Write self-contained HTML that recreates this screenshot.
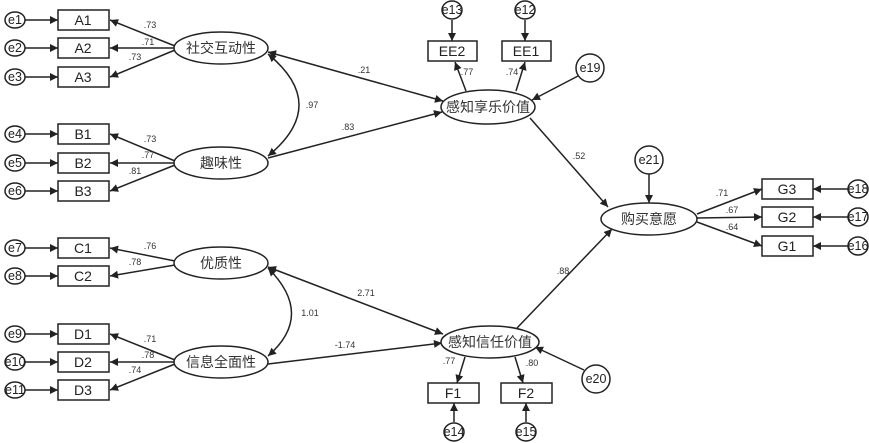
<!DOCTYPE html>
<html><head><meta charset="utf-8"><style>
html,body{margin:0;padding:0;background:#fff;}
svg{display:block;font-family:"Liberation Sans","Noto Sans CJK SC",sans-serif;}
.b{fill:#fff;stroke:#222;stroke-width:1.5}
.l{stroke:#222;stroke-width:1.5;fill:none}
.t{font-size:14px;fill:#222;text-anchor:middle;dominant-baseline:central}
.c{font-size:14px;fill:#333;text-anchor:middle;dominant-baseline:central}
.n{font-size:9px;fill:#333;text-anchor:middle}
.e{font-size:12.5px;fill:#222}
</style></head><body>
<svg width="869" height="443" viewBox="0 0 869 443">
<defs>
<marker id="a" viewBox="0 0 10 10" refX="10" refY="5" markerWidth="11" markerHeight="8" orient="auto-start-reverse" markerUnits="userSpaceOnUse"><path d="M0,0L10,5L0,10z" fill="#222"/></marker>
</defs>
<g class="l" marker-end="url(#a)">
<line x1="25" y1="20" x2="58" y2="20"/><line x1="25" y1="48" x2="58" y2="48"/><line x1="25" y1="77" x2="58" y2="77"/>
<line x1="25" y1="134" x2="58" y2="134"/><line x1="25" y1="163" x2="58" y2="163"/><line x1="25" y1="191" x2="58" y2="191"/>
<line x1="25" y1="248" x2="58" y2="248"/><line x1="25" y1="276" x2="58" y2="276"/>
<line x1="25" y1="334" x2="58" y2="334"/><line x1="25" y1="362" x2="58" y2="362"/><line x1="25" y1="390" x2="58" y2="390"/>
<line x1="175" y1="46" x2="110" y2="20"/><line x1="175" y1="48" x2="110" y2="48"/><line x1="175" y1="50" x2="110" y2="77"/>
<line x1="175" y1="161" x2="110" y2="134"/><line x1="175" y1="163" x2="110" y2="163"/><line x1="175" y1="165" x2="110" y2="191"/>
<line x1="175" y1="261" x2="110" y2="248"/><line x1="175" y1="265" x2="110" y2="276"/>
<line x1="175" y1="360" x2="110" y2="334"/><line x1="175" y1="362" x2="110" y2="362"/><line x1="175" y1="364" x2="110" y2="390"/>
</g>
<g class="b">
<ellipse cx="15" cy="20" rx="10" ry="8"/><ellipse cx="15" cy="48" rx="10" ry="8"/><ellipse cx="15" cy="77" rx="10" ry="8"/>
<ellipse cx="15" cy="134" rx="10" ry="8"/><ellipse cx="15" cy="163" rx="10" ry="8"/><ellipse cx="15" cy="191" rx="10" ry="8"/>
<ellipse cx="15" cy="248" rx="10" ry="8"/><ellipse cx="15" cy="276" rx="10" ry="8"/>
<ellipse cx="15" cy="334" rx="10" ry="8"/><ellipse cx="15" cy="362" rx="10" ry="8"/><ellipse cx="15" cy="390" rx="10" ry="8"/>
<rect x="58" y="10" width="51" height="20"/><rect x="58" y="38" width="51" height="20"/><rect x="58" y="67" width="51" height="20"/>
<rect x="58" y="124" width="51" height="20"/><rect x="58" y="153" width="51" height="20"/><rect x="58" y="181" width="51" height="20"/>
<rect x="58" y="238" width="51" height="20"/><rect x="58" y="266" width="51" height="20"/>
<rect x="58" y="324" width="51" height="20"/><rect x="58" y="352" width="51" height="20"/><rect x="58" y="380" width="51" height="20"/>
<ellipse cx="221" cy="48" rx="47" ry="16"/><ellipse cx="221" cy="163" rx="47" ry="16"/>
<ellipse cx="221" cy="263" rx="47" ry="16"/><ellipse cx="221" cy="362" rx="47" ry="16"/>
</g>
<g class="e" text-anchor="middle" dominant-baseline="central">
<text x="15" y="20">e1</text><text x="15" y="48">e2</text><text x="15" y="77">e3</text>
<text x="15" y="134">e4</text><text x="15" y="163">e5</text><text x="15" y="191">e6</text>
<text x="15" y="248">e7</text><text x="15" y="276">e8</text>
<text x="15" y="334">e9</text><text x="15" y="362">e10</text><text x="15" y="390">e11</text>
</g>
<g class="t">
<text x="83" y="20">A1</text><text x="83" y="48">A2</text><text x="83" y="77">A3</text>
<text x="83" y="134">B1</text><text x="83" y="163">B2</text><text x="83" y="191">B3</text>
<text x="83" y="248">C1</text><text x="83" y="276">C2</text>
<text x="83" y="334">D1</text><text x="83" y="362">D2</text><text x="83" y="390">D3</text>
</g>
<g class="c">
<text x="221" y="48">社交互动性</text><text x="221" y="163">趣味性</text>
<text x="221" y="263">优质性</text><text x="221" y="362">信息全面性</text>
</g>
<g class="n">
<text x="150" y="28">.73</text><text x="148" y="45">.71</text><text x="135" y="60">.73</text>
<text x="150" y="142">.73</text><text x="148" y="158">.77</text><text x="135" y="174">.81</text>
<text x="150" y="249">.76</text><text x="135" y="265">.78</text>
<text x="150" y="342">.71</text><text x="148" y="358">.78</text><text x="135" y="373">.74</text>
</g>
<path class="l" d="M268,54 Q330,105 268,156" marker-start="url(#a)" marker-end="url(#a)"/>
<path class="l" d="M268,268 Q315,315 268,356" marker-start="url(#a)" marker-end="url(#a)"/>
<text class="n" x="312" y="108">.97</text>
<text class="n" x="310" y="316">1.01</text>
<g class="l" marker-end="url(#a)">
<line x1="268" y1="52" x2="443" y2="101" marker-start="url(#a)"/>
<line x1="268" y1="158" x2="442" y2="112"/>
<line x1="268" y1="267" x2="443" y2="334" marker-start="url(#a)"/>
<line x1="268" y1="364" x2="442" y2="343"/>
<line x1="530" y1="118" x2="608" y2="207"/>
<line x1="517" y1="328" x2="612" y2="229"/>
<line x1="466" y1="91" x2="455" y2="62"/>
<line x1="516" y1="91" x2="525" y2="62"/>
<line x1="452" y1="20" x2="452" y2="41"/>
<line x1="525" y1="20" x2="525" y2="41"/>
<line x1="578" y1="76" x2="532" y2="100"/>
<line x1="649" y1="174" x2="649" y2="203"/>
<line x1="697" y1="214" x2="762" y2="189"/>
<line x1="697" y1="218" x2="762" y2="217"/>
<line x1="697" y1="222" x2="762" y2="246"/>
<line x1="848" y1="189" x2="813" y2="189"/>
<line x1="848" y1="217" x2="813" y2="217"/>
<line x1="848" y1="246" x2="813" y2="246"/>
<line x1="465" y1="357" x2="457" y2="383"/>
<line x1="515" y1="357" x2="523" y2="383"/>
<line x1="454" y1="422" x2="454" y2="403"/>
<line x1="526" y1="422" x2="526" y2="403"/>
<line x1="584" y1="370" x2="535" y2="347"/>
</g>
<g class="b">
<ellipse cx="488" cy="107" rx="47" ry="17"/>
<ellipse cx="490" cy="342" rx="49" ry="16"/>
<ellipse cx="649" cy="219" rx="48" ry="16"/>
<rect x="428" y="41" width="49" height="20"/><rect x="502" y="41" width="49" height="20"/>
<rect x="762" y="179" width="51" height="20"/><rect x="762" y="207" width="51" height="20"/><rect x="762" y="236" width="51" height="20"/>
<rect x="428" y="383" width="51" height="20"/><rect x="501" y="383" width="51" height="20"/>
<ellipse cx="452" cy="10" rx="10" ry="9"/><ellipse cx="525" cy="10" rx="10" ry="9"/>
<circle cx="590" cy="68" r="14"/><circle cx="649" cy="160" r="14"/><circle cx="596" cy="379" r="14"/>
<ellipse cx="858" cy="189" rx="10" ry="9"/><ellipse cx="858" cy="217" rx="10" ry="9"/><ellipse cx="858" cy="246" rx="10" ry="9"/>
<ellipse cx="454" cy="432" rx="10" ry="9"/><ellipse cx="526" cy="432" rx="10" ry="9"/>
</g>
<g class="c">
<text x="488" y="107">感知享乐价值</text><text x="490" y="342">感知信任价值</text><text x="649" y="219">购买意愿</text>
</g>
<g class="t">
<text x="452" y="51">EE2</text><text x="526" y="51">EE1</text>
<text x="787" y="189">G3</text><text x="787" y="217">G2</text><text x="787" y="246">G1</text>
<text x="453" y="393">F1</text><text x="526" y="393">F2</text>
</g>
<g class="e" text-anchor="middle" dominant-baseline="central">
<text x="452" y="10">e13</text><text x="525" y="10">e12</text>
<text x="590" y="68">e19</text><text x="649" y="160">e21</text><text x="596" y="379">e20</text>
<text x="858" y="189">e18</text><text x="858" y="217">e17</text><text x="858" y="246">e16</text>
<text x="454" y="432">e14</text><text x="526" y="432">e15</text>
</g>
<g class="n">
<text x="364" y="73">.21</text><text x="348" y="130">.83</text>
<text x="366" y="296">2.71</text><text x="345" y="348">-1.74</text>
<text x="579" y="159">.52</text><text x="563" y="274">.88</text>
<text x="467" y="75">.77</text><text x="512" y="75">.74</text>
<text x="722" y="196">.71</text><text x="732" y="213">.67</text><text x="732" y="230">.64</text>
<text x="449" y="364">.77</text><text x="532" y="366">.80</text>
</g>
</svg>
</body></html>
